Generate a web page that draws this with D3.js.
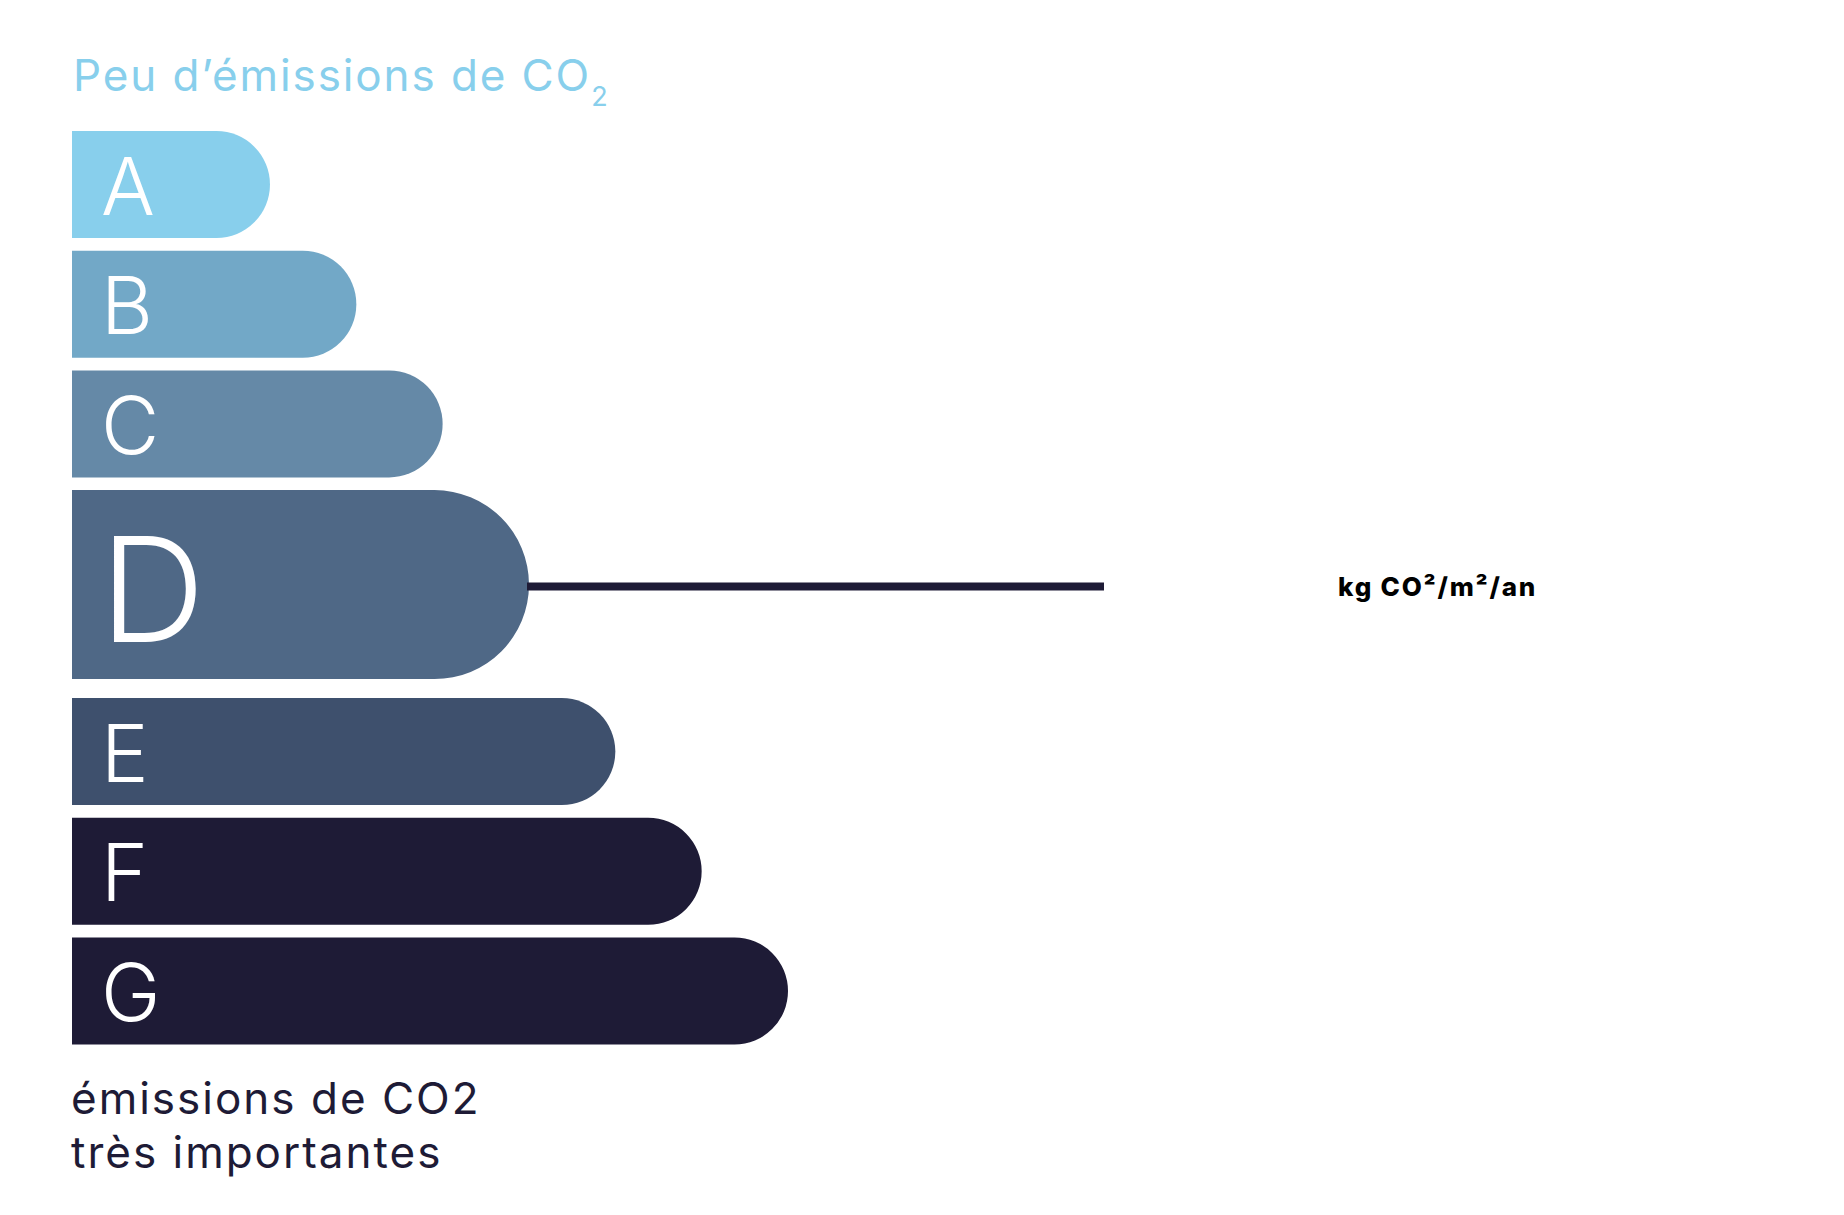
<!DOCTYPE html>
<html>
<head>
<meta charset="utf-8">
<script src="https://cdn.jsdelivr.net/npm/d3@7"></script>
<style>
  html, body { margin: 0; padding: 0; background: #fff; }
  svg text { font-family: "Inter", "Open Sans", sans-serif; }
</style>
</head>
<body>
<div id="chart"></div>
<script>
// Data
const classes = ["A", "B", "C", "D", "E", "F", "G"];
const classRank = [1, 2, 3, 4, 5, 6, 7];
const currentClass = "D";
const topLabel = "Peu d’émissions de CO";
const topLabelSub = "2";
const bottomLabel = ["émissions de CO2", "très importantes"];
const unitLabel = "kg CO²/m²/an";

const colors = ["#88cfec", "#72a8c7", "#6589a7", "#4f6886", "#3e506d", "#1e1b36", "#1e1b36"];

const W = 1844, H = 1215;
const left = 72;
const barH = 107, activeH = 189, gap = 12.7, gapAfter = 19;
const top0 = 131;

const svg = d3.select("#chart")
  .append("svg")
    .attr("width", W)
    .attr("height", H);

// bar lengths from rank
const x = d3.scaleLinear()
    .domain([1, 7])
    .range([198, 716]);

// stack bars vertically, the current class is taller
const bars = [];
let yy = top0;
classes.forEach((c, i) => {
    const active = c === currentClass;
    const h = active ? activeH : barH;
    bars.push({cls: c, rank: classRank[i], y: yy, h: h, active: active, color: colors[i]});
    yy += h + (active ? gapAfter : gap);
});

function barPath(d) {
    const x1 = left + x(d.rank);
    const r = d.h / 2;
    return `M${left},${d.y} H${x1 - r} A${r},${r} 0 0 1 ${x1 - r},${d.y + d.h} H${left} Z`;
}

svg.append("g")
  .selectAll("path")
  .data(bars)
  .join("path")
    .attr("d", barPath)
    .attr("fill", d => d.color);

// class letters
svg.append("g")
  .selectAll("text")
  .data(bars)
  .join("text")
    .attr("x", d => left + (d.active ? 28 : 29))
    .attr("y", d => d.y + d.h / 2 + (d.active ? 57 : 30))
    .attr("fill", "#fff")
    .attr("font-size", d => d.active ? 146 : 80)
    .attr("font-weight", 300)
    .text(d => d.cls);

// pointer line for the current class
const cur = bars.find(d => d.active);
svg.append("line")
    .attr("x1", left + x(cur.rank) - 2)
    .attr("x2", 1104)
    .attr("y1", cur.y + cur.h / 2 + 2)
    .attr("y2", cur.y + cur.h / 2 + 2)
    .attr("stroke", "#1e1b36")
    .attr("stroke-width", 8);

svg.append("text")
    .attr("x", 1338)
    .attr("y", 596)
    .attr("font-size", 26)
    .attr("font-weight", 800)
    .attr("letter-spacing", 1.8)
    .attr("fill", "#000")
    .text(unitLabel);

// top label
const t = svg.append("text")
    .attr("x", 73)
    .attr("y", 91)
    .attr("font-size", 44)
    .attr("letter-spacing", 1.9)
    .attr("fill", "#88cfec");
t.append("tspan").text(topLabel);
t.append("tspan")
    .attr("font-size", 27)
    .attr("dy", 15)
    .text(topLabelSub);

// bottom label
svg.append("g")
  .selectAll("text")
  .data(bottomLabel)
  .join("text")
    .attr("x", 71)
    .attr("y", (d, i) => 1114 + i * 54)
    .attr("font-size", 44)
    .attr("letter-spacing", 2)
    .attr("fill", "#1e1b36")
    .text(d => d);
</script>
</body>
</html>
